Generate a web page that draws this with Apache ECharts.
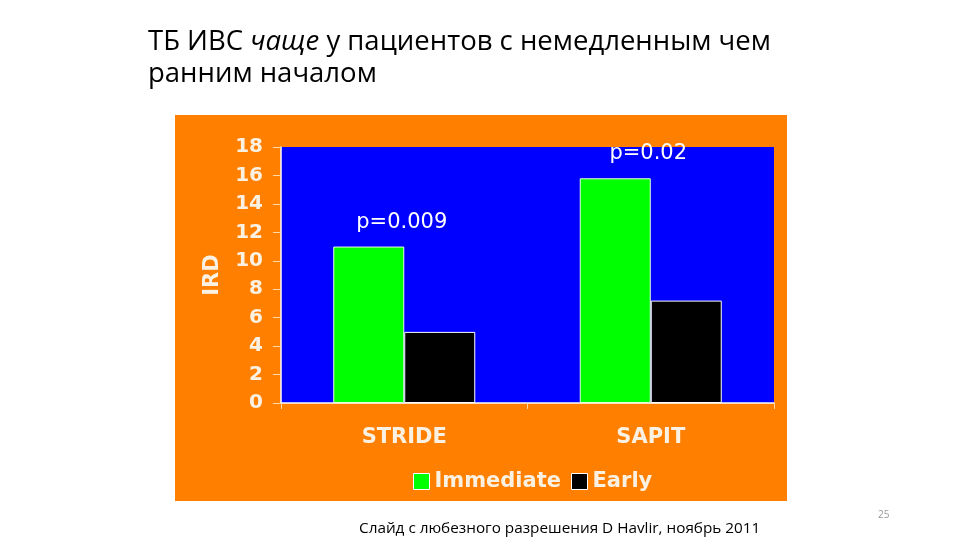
<!DOCTYPE html>
<html>
<head>
<meta charset="utf-8">
<script src="https://cdn.jsdelivr.net/npm/echarts@6/dist/echarts.min.js"></script>
<style>
html,body{margin:0;padding:0;background:#fff;}
#c{width:960px;height:540px;}
</style>
</head>
<body>
<div id="c"></div>
<script>
var categories = ['STRIDE', 'SAPIT'];
var immediate = [11.0, 15.8];
var early = [5.0, 7.2];
var pLabels = ['p=0.009', 'p=0.02'];
var yTicks = { min: 0, max: 18, interval: 2 };

var chart = echarts.init(document.getElementById('c'));
var light = '#fbf1e2';
var chartFont = 'DejaVu Sans';

chart.setOption({
  backgroundColor: '#ffffff',
  animation: false,
  title: [
    {
      left: 143, top: 21,
      text: '{n|ТБ ИВС }{i|чаще}{n| у пациентов с немедленным чем}\n{n|ранним началом}',
      textStyle: {
        fontWeight: 'normal',
        rich: {
          n: { fontFamily: 'Open Sans', fontSize: 27.5, fontWeight: 'normal', color: '#000', lineHeight: 32 },
          i: { fontFamily: 'Open Sans', fontSize: 27.5, fontWeight: 'normal', fontStyle: 'italic', color: '#000', lineHeight: 32 }
        }
      }
    },
    {
      left: 354, top: 516,
      text: 'Слайд с любезного разрешения D Havlir, ноябрь 2011',
      textStyle: { fontFamily: 'Open Sans', fontSize: 15.3, fontWeight: 'normal', color: '#000' }
    },
    {
      left: 873, top: 505,
      text: '25',
      textStyle: { fontFamily: 'Open Sans', fontSize: 10, fontWeight: 'normal', color: '#999' }
    }
  ],
  graphic: [
    {
      type: 'rect', z: -10, silent: true,
      shape: { x: 175, y: 115, width: 612, height: 386 },
      style: { fill: '#ff8000' }
    }
  ],
  grid: {
    left: 281, top: 147, width: 493, height: 256,
    show: true, backgroundColor: '#0000ff', borderWidth: 0
  },
  legend: {
    left: 408, top: 466,
    itemWidth: 16, itemHeight: 16, itemGap: 10,
    icon: 'rect',
    textStyle: { fontFamily: chartFont, fontWeight: 'bold', fontSize: 21, color: light },
    data: [
      { name: 'Immediate', itemStyle: { borderColor: '#fff', borderWidth: 1 } },
      { name: 'Early', itemStyle: { borderColor: '#fff', borderWidth: 1 } }
    ]
  },
  xAxis: {
    type: 'category',
    data: categories,
    axisLine: { show: true, lineStyle: { color: '#ffffff', width: 1.5 } },
    axisTick: { show: true, length: 6, lineStyle: { color: '#ffd9a8' } },
    axisLabel: { margin: 24, fontFamily: chartFont, fontWeight: 'bold', fontSize: 21, color: light },
    splitLine: { show: false }
  },
  yAxis: {
    type: 'value',
    min: yTicks.min, max: yTicks.max, interval: yTicks.interval,
    name: 'IRD',
    nameLocation: 'middle',
    nameGap: 58,
    nameRotate: 90,
    nameTextStyle: { fontFamily: chartFont, fontWeight: 'bold', fontSize: 21, color: light },
    axisLine: { show: true, lineStyle: { color: '#ffffff', width: 1.5 } },
    axisTick: { show: true, length: 8, lineStyle: { color: '#ffd9a8' } },
    axisLabel: { margin: 18, fontFamily: chartFont, fontWeight: 'bold', fontSize: 20, color: light },
    splitLine: { show: false }
  },
  series: [
    {
      name: 'Immediate', type: 'bar', barWidth: 71, barGap: '0%',
      data: immediate,
      itemStyle: { color: '#00ff00', borderColor: '#e8ffe0', borderWidth: 1 },
      label: {
        show: true, position: 'top', distance: 14, offset: [33, 0],
        formatter: function (p) { return pLabels[p.dataIndex]; },
        fontFamily: chartFont, fontSize: 21, fontWeight: 'normal', color: '#ffffff'
      }
    },
    {
      name: 'Early', type: 'bar', barWidth: 71,
      data: early,
      itemStyle: { color: '#000000', borderColor: '#ffffff', borderWidth: 1 }
    }
  ]
});
</script>
</body>
</html>
